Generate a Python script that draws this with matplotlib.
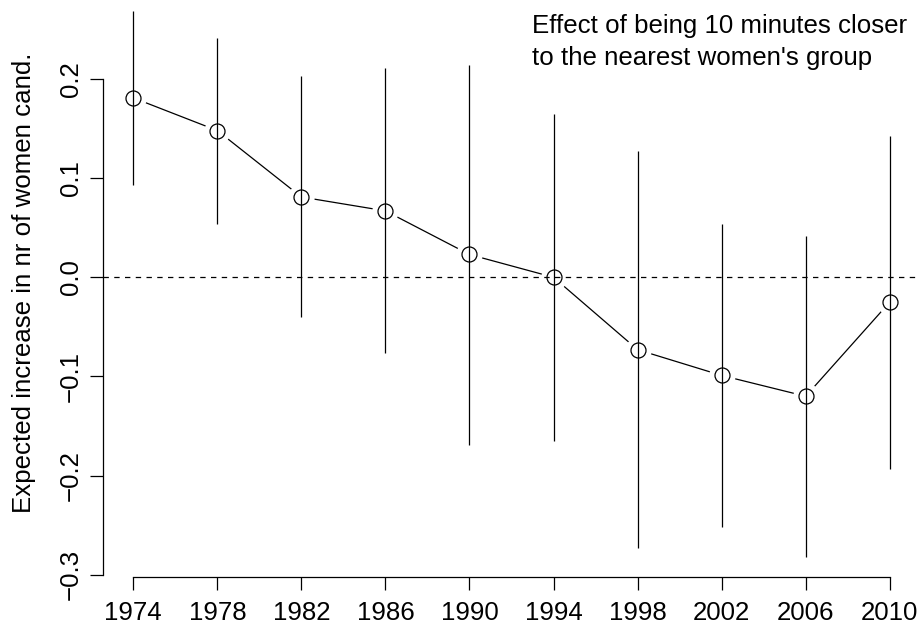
import matplotlib
matplotlib.use("Agg")
import matplotlib.pyplot as plt

plt.rcParams["font.family"] = ["Liberation Sans", "DejaVu Sans"]

# ----------------------------------------------------------------------
# Data
# ----------------------------------------------------------------------
years = [1974, 1978, 1982, 1986, 1990, 1994, 1998, 2002, 2006, 2010]
effect = [0.181, 0.148, 0.081, 0.067, 0.023, 0.000, -0.073, -0.099, -0.120, -0.025]
upper = [0.269, 0.241, 0.203, 0.211, 0.214, 0.165, 0.127, 0.054, 0.042, 0.143]
lower = [0.093, 0.054, -0.040, -0.076, -0.169, -0.165, -0.273, -0.252, -0.282, -0.193]

y_ticks = [-0.3, -0.2, -0.1, 0.0, 0.1, 0.2]
y_ticklabels = ["\u22120.3", "\u22120.2", "\u22120.1", "0.0", "0.1", "0.2"]

W, H = 924, 629
LW = 0.9
FS = 18.6

fig = plt.figure(figsize=(W / 100, H / 100), dpi=100)
ax = fig.add_axes([103 / W, (H - 577) / H, (920 - 103) / W, 577 / H])

# connecting line with gaps around the points (like R type="b")
ax.plot(years, effect, color="black", lw=LW, zorder=1)
ax.plot(years, effect, ls="none", marker="o", ms=19, mfc="white",
        mec="none", zorder=2)

# zero reference line
ax.axhline(0, color="black", lw=LW, ls=(0, (4.3, 4.3)), zorder=3)

# confidence intervals
ax.vlines(years, lower, upper, color="black", lw=LW, zorder=4)

# open circles
ax.plot(years, effect, ls="none", marker="o", ms=10.8, mfc="none",
        mec="black", mew=LW, zorder=5)

ax.set_xlim(1972.56, 2011.44)
ax.set_ylim(-0.3023, 0.2797)

for side in ("top", "right"):
    ax.spines[side].set_visible(False)
ax.spines["left"].set_bounds(-0.3, 0.2)
ax.spines["bottom"].set_bounds(1974, 2010)
for side in ("left", "bottom"):
    ax.spines[side].set_linewidth(LW)

ax.set_xticks(years)
ax.set_xticklabels([str(y) for y in years])
ax.set_yticks(y_ticks)
ax.set_yticklabels(y_ticklabels, rotation=90, va="center")
ax.tick_params(direction="out", length=9.4, width=LW, labelsize=FS)
ax.tick_params(axis="x", pad=8)
ax.tick_params(axis="y", pad=5)

ax.set_ylabel("Expected increase in nr of women cand.", fontsize=FS)
ax.yaxis.set_label_coords((36 - 103) / 817, 0.51)

fig.text(531.7 / W, 1 - 33.3 / H, "Effect of being 10 minutes closer",
         fontsize=FS, va="baseline", ha="left")
fig.text(531.7 / W, 1 - 65.5 / H, "to the nearest women's group",
         fontsize=FS, va="baseline", ha="left")

fig.savefig("out.png", dpi=100)
